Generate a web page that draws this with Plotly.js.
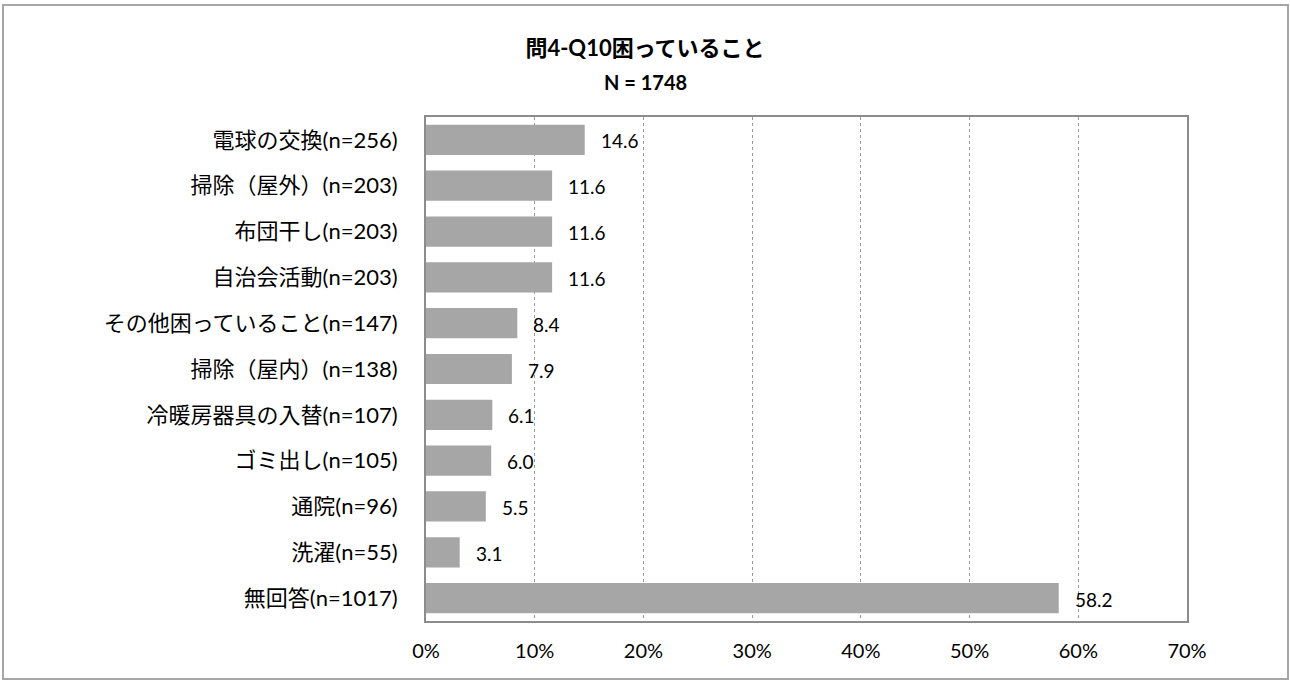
<!DOCTYPE html>
<html>
<head>
<meta charset="utf-8">
<script src="https://cdn.plot.ly/plotly-3.0.1.min.js"></script>
<style>html,body{margin:0;padding:0;background:#fff;}#chart{width:1290px;height:682px;}</style>
</head>
<body>
<div id="chart"></div>
<script>
const categories = ["電球の交換(n=256)","掃除（屋外）(n=203)","布団干し(n=203)","自治会活動(n=203)","その他困っていること(n=147)","掃除（屋内）(n=138)","冷暖房器具の入替(n=107)","ゴミ出し(n=105)","通院(n=96)","洗濯(n=55)","無回答(n=1017)"];
const values = [14.6, 11.6, 11.6, 11.6, 8.4, 7.9, 6.1, 6.0, 5.5, 3.1, 58.2];
const titleText = "問4-Q10困っていること";
const subtitleText = "N = 1748";

const FONT = "Lato, 'Noto Sans CJK JP', sans-serif";

const trace = {
  type: "bar",
  orientation: "h",
  y: categories,
  x: values,
  marker: {color: "#a6a6a6"},
  hoverinfo: "x+y"
};

const labelAnns = values.map((v, i) => ({
  x: v, y: categories[i], xref: "x", yref: "y",
  text: v.toFixed(1), showarrow: false,
  xanchor: "left", yanchor: "middle", xshift: 14, yshift: -1,
  font: {family: FONT, size: 19, color: "#000"}
}));

const layout = {
  width: 1290, height: 682,
  margin: {l: 426, r: 103, t: 117, b: 61},
  paper_bgcolor: "#fff", plot_bgcolor: "#fff",
  showlegend: false,
  bargap: 0.34,
  font: {family: FONT, size: 20, color: "#000"},
  title: {text: "<b>" + titleText + "</b>", x: 0.5, xanchor: "center", xref: "container", y: 1 - 48/682, yanchor: "middle", font: {family: FONT, size: 22, color: "#000"}},
  xaxis: {
    range: [0, 70], dtick: 10, tick0: 0, ticksuffix: "%",
    showgrid: true, gridcolor: "#9a9a9a", griddash: "dot", gridwidth: 1,
    showline: true, mirror: true, linecolor: "#8c8c8c", linewidth: 2,
    zeroline: false, ticks: "", ticklabelstandoff: 11,
    tickfont: {family: FONT, size: 20, color: "#000"}, fixedrange: true
  },
  yaxis: {
    autorange: "reversed", showgrid: false,
    showline: true, mirror: true, linecolor: "#8c8c8c", linewidth: 2,
    ticks: "", ticklabelstandoff: 22,
    tickfont: {family: FONT, size: 22, color: "#000"}, fixedrange: true
  },
  annotations: labelAnns.concat([{
    xref: "paper", yref: "paper", x: (645 - 426)/761, y: (621 - 82)/504,
    text: "<b>" + subtitleText + "</b>", showarrow: false, xanchor: "center", yanchor: "middle",
    font: {family: FONT, size: 20, color: "#000"}
  }]),
  shapes: [{
    type: "rect", xref: "paper", yref: "paper",
    x0: (3 - 426)/761, x1: (1288 - 426)/761,
    y0: (621 - 679)/504, y1: (621 - 5)/504,
    line: {color: "#a6a6a6", width: 2}, fillcolor: "rgba(0,0,0,0)", layer: "below"
  }]
};

Plotly.newPlot("chart", [trace], layout, {displayModeBar: false});
</script>
</body>
</html>
